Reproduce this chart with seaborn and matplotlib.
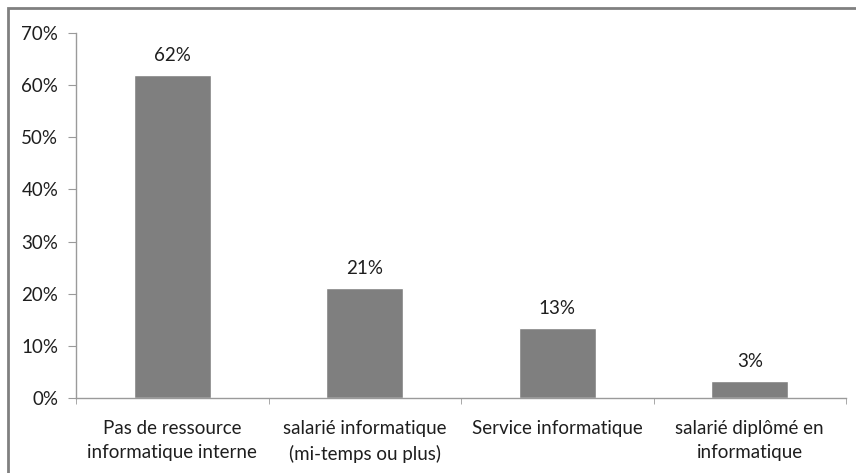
import matplotlib
matplotlib.use("Agg")
import matplotlib.pyplot as plt
import seaborn as sns
import pandas as pd
from matplotlib.ticker import PercentFormatter
from matplotlib.patches import Rectangle

# =====================================
# Data
# =====================================
categories = [
    "Pas de ressource\ninformatique interne",
    "salarié informatique\n(mi-temps ou plus)",
    "Service informatique",
    "salarié diplômé en\ninformatique",
]
values = [61.9, 21.1, 13.4, 3.3]
value_labels = ["62%", "21%", "13%", "3%"]

df = pd.DataFrame({"cat": categories, "val": values})

sns.set_style("white")
plt.rcParams["font.family"] = ["Lato", "DejaVu Sans"]

fig = plt.figure(figsize=(8.56, 4.73), dpi=100)
ax = fig.add_axes([76 / 856, 1 - 398 / 473, (846 - 76) / 856, (398 - 33) / 473])

sns.barplot(data=df, x="cat", y="val", color="#7f7f7f", width=0.4,
            saturation=1, ax=ax)

ax.bar_label(ax.containers[0], labels=value_labels, padding=8,
             fontsize=13.5, color="#1e1e1e")

ax.set_ylim(0, 70)
ax.set_yticks(range(0, 71, 10))
ax.yaxis.set_major_formatter(PercentFormatter(decimals=0))
ax.set_xlim(-0.5, 3.5)
ax.set_xlabel("")
ax.set_ylabel("")

axis_col = "#9a9a9a"
for side in ["top", "right"]:
    ax.spines[side].set_visible(False)
for side in ["left", "bottom"]:
    ax.spines[side].set_color(axis_col)
    ax.spines[side].set_linewidth(1)

ax.tick_params(axis="y", length=5.8, color=axis_col, direction="out",
               labelsize=13.5, labelcolor="#1e1e1e", left=True, pad=7)
ax.tick_params(axis="x", which="major", length=0, labelsize=13.5,
               labelcolor="#1e1e1e", pad=16)
for lbl in ax.get_xticklabels():
    lbl.set_linespacing(1.5)
ax.set_xticks([-0.5, 0.5, 1.5, 2.5, 3.5], minor=True)
ax.tick_params(axis="x", which="minor", length=4.5, color=axis_col,
               direction="out", bottom=True)

# outer chart border
fig.patches.append(Rectangle((8 / 856, -0.05), 1.05, 1 - 8 / 473 + 0.05,
                             transform=fig.transFigure, fill=False,
                             edgecolor="#808080", linewidth=2))

fig.savefig("out.png", dpi=100)
